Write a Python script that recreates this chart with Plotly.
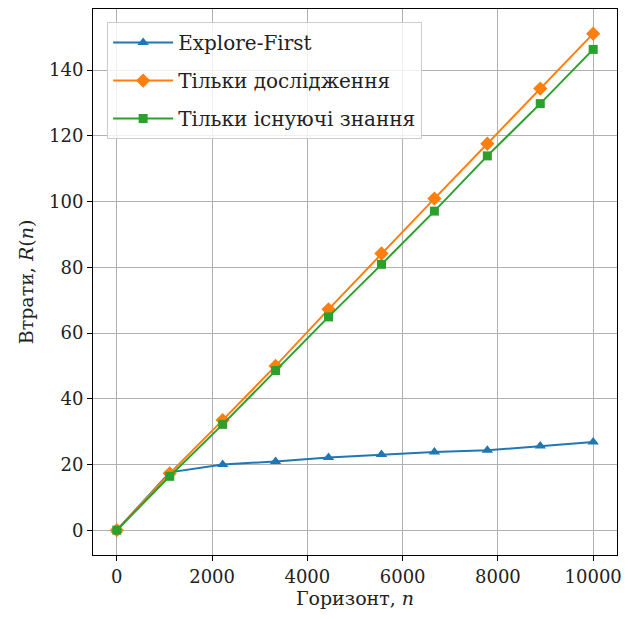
import plotly.graph_objects as go

horizon = [0, 1111, 2222, 3333, 4444, 5556, 6667, 7778, 8889, 10000]
explore_first = [0, 17.6, 20.0, 20.9, 22.1, 23.0, 23.8, 24.3, 25.6, 26.8]
explore_only = [0, 17.3, 33.5, 50.0, 67.2, 84.2, 100.9, 117.6, 134.4, 151.1]
exploit_only = [0, 16.4, 32.2, 48.6, 64.9, 80.9, 97.1, 113.9, 129.8, 146.3]

names = ["Explore-First", "Тільки дослідження", "Тільки існуючі знання"]
colors = ["#1f77b4", "#ff7f0e", "#2ca02c"]
symbols = ["triangle-up", "diamond", "square"]
sizes = [10, 11, 9]

x_ticks = [0, 2000, 4000, 6000, 8000, 10000]
x_ticktext = ["0", "2000", "4000", "6000", "8000", "10000"]
y_ticks = [0, 20, 40, 60, 80, 100, 120, 140]

fig = go.Figure()
for i, (ys, nm, c, s, sz) in enumerate(zip([explore_first, explore_only, exploit_only], names, colors, symbols, sizes)):
    fig.add_trace(go.Scatter(x=horizon, y=ys, name=nm, mode="lines+markers",
                             legendgroup=f"g{i}",
                             line=dict(color=c, width=2),
                             marker=dict(symbol=s, size=sz, color=c)))

font = "'DejaVu Serif', serif"
axis_common = dict(showline=True, mirror=True, linecolor="black", linewidth=1,
                   ticks="outside", ticklen=5, tickcolor="black",
                   showgrid=True, gridcolor="#b0b0b0", gridwidth=1, zeroline=False,
                   automargin=False,
                   tickfont=dict(family=font, size=18, color="#222"))
fig.update_layout(
    width=621, height=611,
    margin=dict(l=85, r=12, t=1, b=64, autoexpand=False),
    paper_bgcolor="white", plot_bgcolor="white",
    font=dict(family=font, size=18, color="#222"),
    xaxis=dict(range=[-500, 10500], tickvals=x_ticks, ticktext=x_ticktext,
               title=dict(text="Горизонт, <i>n</i>", standoff=6,
                          font=dict(family=font, size=19, color="#222")), **axis_common),
    yaxis=dict(range=[-7.55, 158.6], tickvals=y_ticks,
               title=dict(text="Втрати, <i>R</i>(<i>n</i>)", standoff=10,
                          font=dict(family=font, size=19, color="#222")), **axis_common),
    legend=dict(x=0.027, y=0.976, xanchor="left", yanchor="top",
                bgcolor="rgba(255,255,255,0.8)", bordercolor="#cccccc", borderwidth=1,
                font=dict(family=font, size=20, color="#222"), itemwidth=60, tracegroupgap=9),
    showlegend=True,
)
fig.write_html("out.html")
